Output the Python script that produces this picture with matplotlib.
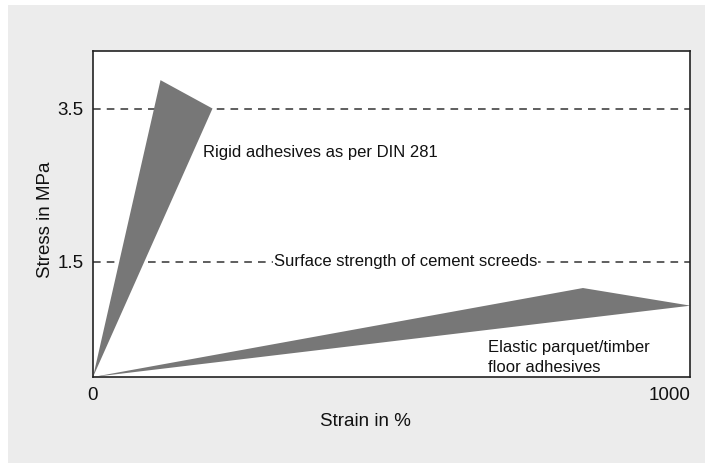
import matplotlib
matplotlib.use("Agg")
import matplotlib.pyplot as plt
from matplotlib.patches import Rectangle, Polygon

plt.rcParams['font.family'] = ['Liberation Sans', 'DejaVu Sans']

# strain in %, stress in MPa
rigid_strain = [0, 113, 200]
rigid_stress = [0, 3.87, 3.5]
elastic_strain = [0, 820, 1000]
elastic_stress = [0, 1.16, 0.93]

limit_levels = [3.5, 1.5]
x_ticks = [0, 1000]
y_ticks = [1.5, 3.5]

fig = plt.figure(figsize=(7.05, 4.63), dpi=100, facecolor='white')
fig.patches.append(Rectangle((8 / 705, 0), 1 - 8 / 705, 458 / 463,
                             transform=fig.transFigure, facecolor='#ececec',
                             edgecolor='none', zorder=-10))

ax = fig.add_axes([93 / 705, 86 / 463, 597.5 / 705, 326 / 463])
ax.set_facecolor('white')

ax.add_patch(Polygon(list(zip(rigid_strain, rigid_stress)), closed=True,
                     facecolor='#777777', edgecolor='none', zorder=2))
ax.add_patch(Polygon(list(zip(elastic_strain, elastic_stress)), closed=True,
                     facecolor='#777777', edgecolor='none', zorder=2))

for lvl in limit_levels:
    ax.axhline(lvl, color='#333333', lw=1.1, dashes=(5, 4), zorder=1)

ax.set_xlim(0, 1000)
ax.set_ylim(0, 4.25)
ax.set_xticks(x_ticks)
ax.set_yticks(y_ticks)
ax.set_xticklabels(['0', '1000'])
ax.set_yticklabels(['1.5', '3.5'])
ax.tick_params(length=0, labelsize=13.5, colors='#111111', pad=7)
ax.get_xticklabels()[1].set_horizontalalignment('right')
ax.get_xticklabels()[0].set_horizontalalignment('center')

for s in ax.spines.values():
    s.set_color('#222222')
    s.set_linewidth(1.2)

ax.text(184, 2.93, 'Rigid adhesives as per DIN 281', fontsize=12,
        ha='left', va='center', color='#111111')
ax.text(523, 1.5, 'Surface strength of cement screeds', fontsize=12,
        ha='center', va='center', color='#111111',
        bbox=dict(facecolor='white', edgecolor='none', pad=0.5))
ax.text(661, 0.02, 'Elastic parquet/timber\nfloor adhesives', fontsize=12,
        ha='left', va='bottom', color='#111111', linespacing=1.45)

fig.text(365 / 705, 1 - 422 / 463, 'Strain in %', fontsize=13.5,
         ha='center', va='center', color='#111111')
fig.text(45 / 705, 1 - 220 / 463, 'Stress in MPa', fontsize=13.5,
         ha='center', va='center', rotation=90, color='#111111')

fig.savefig('out.png', dpi=100, facecolor=fig.get_facecolor())
